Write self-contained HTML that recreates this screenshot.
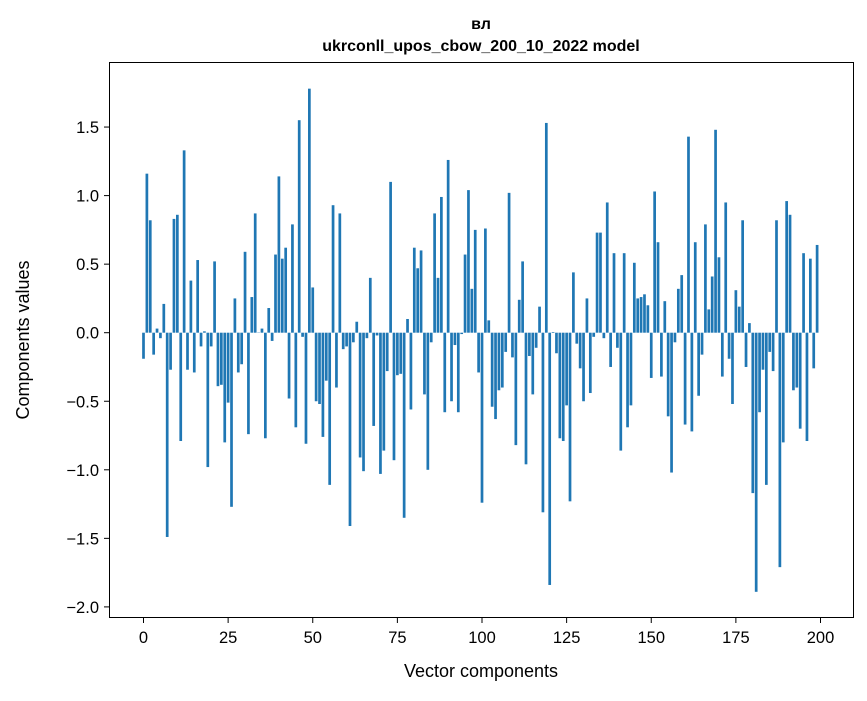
<!DOCTYPE html>
<html><head><meta charset="utf-8"><style>
body{margin:0;background:#fff;}
svg text{font-family:"Liberation Sans",sans-serif;fill:#000;}
</style></head><body>
<svg id="chart" width="867" height="696" xmlns="http://www.w3.org/2000/svg">
<rect width="867" height="696" fill="#fff"/>
<text x="481" y="29" text-anchor="middle" font-size="16" font-weight="bold">вл</text>
<text x="481" y="51" text-anchor="middle" font-size="16" font-weight="bold">ukrconll_upos_cbow_200_10_2022 model</text>
<g id="bars"></g>
<g id="xaxis"></g>
<g id="yaxis"></g>
<rect x="109.5" y="62.5" width="744" height="555" fill="none" stroke="#000" stroke-width="1"/>
<text x="481" y="677" text-anchor="middle" font-size="18">Vector components</text>
<text transform="translate(29,340) rotate(-90)" text-anchor="middle" font-size="18">Components values</text>
</svg>
<script>
const values = [-0.19,1.16,0.82,-0.16,0.03,-0.04,0.21,-1.49,-0.27,0.83,0.86,-0.79,1.33,-0.27,0.38,-0.29,0.53,-0.10,0.01,-0.98,
-0.10,0.52,-0.39,-0.38,-0.80,-0.51,-1.27,0.25,-0.29,-0.23,0.59,-0.74,0.26,0.87,0.0,0.03,-0.77,0.18,-0.06,0.57,
1.14,0.54,0.62,-0.48,0.79,-0.69,1.55,-0.03,-0.81,1.78,0.33,-0.50,-0.52,-0.76,-0.35,-1.11,0.93,-0.40,0.87,-0.12,
-0.10,-1.41,-0.07,0.08,-0.91,-1.01,-0.04,0.40,-0.68,-0.02,-1.03,-0.86,-0.28,1.10,-0.93,-0.31,-0.30,-1.35,0.10,-0.56,
0.62,0.47,0.60,-0.45,-1.00,-0.07,0.87,0.40,0.99,-0.58,1.26,-0.50,-0.09,-0.58,-0.01,0.57,1.04,0.32,0.75,-0.29,
-1.24,0.76,0.09,-0.54,-0.63,-0.42,-0.40,-0.14,1.02,-0.18,-0.82,0.24,0.52,-0.96,-0.17,-0.45,-0.11,0.19,-1.31,1.53,
-1.84,0.005,-0.15,-0.77,-0.79,-0.53,-1.23,0.44,-0.08,-0.26,-0.50,0.25,-0.44,-0.03,0.73,0.73,-0.04,0.95,-0.25,0.58,
-0.11,-0.86,0.58,-0.69,-0.53,0.51,0.25,0.26,0.28,0.20,-0.33,1.03,0.66,-0.32,0.23,-0.61,-1.02,-0.07,0.32,0.42,
-0.67,1.43,-0.72,0.66,-0.46,-0.16,0.79,0.17,0.41,1.48,0.55,-0.32,0.95,-0.19,-0.52,0.31,0.19,0.82,-0.25,0.07,
-1.17,-1.89,-0.58,-0.27,-1.11,-0.14,-0.28,0.82,-1.71,-0.80,0.96,0.86,-0.42,-0.40,-0.70,0.58,-0.79,0.54,-0.26,0.64];
const xTicks = [0,25,50,75,100,125,150,175,200];
const yTicks = [-2.0,-1.5,-1.0,-0.5,0.0,0.5,1.0,1.5];
const NS="http://www.w3.org/2000/svg";
const xScale = v => 143.5 + v*3.385;
const yScale = v => 332.7 - v*137.1;
const barsG=document.getElementById('bars');
values.forEach((v,i)=>{
  const r=document.createElementNS(NS,'rect');
  
  
  const y0=yScale(0), y1=yScale(v);
  r.setAttribute('x',xScale(i-0.4));
  r.setAttribute('width',xScale(0.8)-xScale(0));
  r.setAttribute('y',Math.min(y0,y1));
  r.setAttribute('height',Math.max(Math.abs(y1-y0),0.3));
  r.setAttribute('fill','#1f77b4');
  barsG.appendChild(r);
});
const xg=document.getElementById('xaxis');
xTicks.forEach(t=>{
  const x=xScale(t);
  const l=document.createElementNS(NS,'line');
  
  
  l.setAttribute('x1',x);l.setAttribute('x2',x);l.setAttribute('y1',617.5);l.setAttribute('y2',623);
  l.setAttribute('stroke','#000');
  xg.appendChild(l);
  const tx=document.createElementNS(NS,'text');
  
  
  tx.setAttribute('x',x);tx.setAttribute('y',643);tx.setAttribute('text-anchor','middle');tx.setAttribute('font-size','16.5');
  tx.textContent=t;
  xg.appendChild(tx);
});
const yg=document.getElementById('yaxis');
yTicks.forEach(t=>{
  const y=yScale(t);
  const l=document.createElementNS(NS,'line');
  
  
  l.setAttribute('x1',104);l.setAttribute('x2',109.5);l.setAttribute('y1',y);l.setAttribute('y2',y);
  l.setAttribute('stroke','#000');
  yg.appendChild(l);
  const tx=document.createElementNS(NS,'text');
  
  
  tx.setAttribute('x',99);tx.setAttribute('y',y+6);tx.setAttribute('text-anchor','end');tx.setAttribute('font-size','16.5');
  tx.textContent=(t<0?'\u2212':'')+Math.abs(t).toFixed(1);
  yg.appendChild(tx);
});
</script>
</body></html>
